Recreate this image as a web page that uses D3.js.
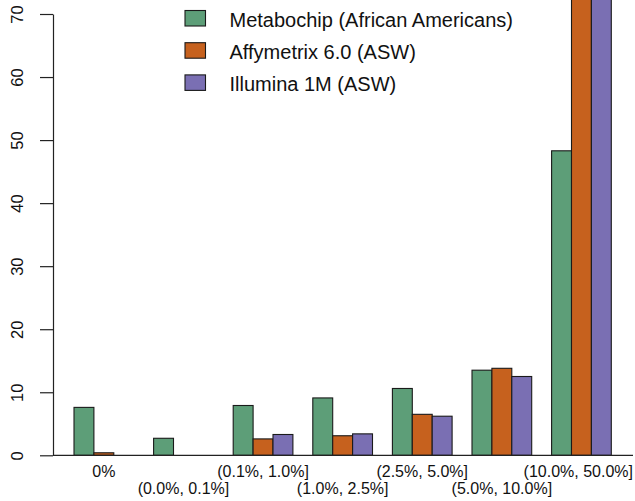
<!DOCTYPE html>
<html>
<head>
<meta charset="utf-8">
<script src="https://cdn.jsdelivr.net/npm/d3@7"></script>
<style>
  body { margin: 0; background: #fff; font-family: "Liberation Sans", Arial, sans-serif; }
  svg { display: block; }
</style>
</head>
<body>
<div id="container"><svg></svg></div>
<script>
// bins of allele frequency
let categories = ['0%', '(0.0%, 0.1%]', '(0.1%, 1.0%]', '(1.0%, 2.5%]', '(2.5%, 5.0%]', '(5.0%, 10.0%]', '(10.0%, 50.0%]'];
let series = ['Metabochip (African Americans)', 'Affymetrix 6.0 (ASW)', 'Illumina 1M (ASW)'];
let metabochip = [7.6, 2.7, 7.9, 9.1, 10.6, 13.5, 48.3];
let affymetrix = [0.4, 0, 2.6, 3.1, 6.5, 13.8, 73.6];
let illumina = [0, 0, 3.3, 3.4, 6.2, 12.5, 74.6];
let colors = ['#5d9e78', '#c6611e', '#7a6fb3'];
let yTicks = [0, 10, 20, 30, 40, 50, 60, 70];

let width = 635;
let height = 501;
let fontFamily = '"Liberation Sans", Arial, sans-serif';

function draw_main() {
    let svg = d3.select('#container')
        .select('svg')
        .attr('width', width)
        .attr('height', height);

    let values = [metabochip, affymetrix, illumina];

    // y scale - percent of snps
    let y = d3.scaleLinear()
        .domain([0, 70])
        .range([455.3, 14]);

    // one group = 1 gap unit + 3 bars
    let unit = 19.9;
    let x0 = 54.1;
    let x = d3.scaleBand()
        .domain(categories)
        .range([x0, x0 + categories.length * 4 * unit]);
    let xs = d3.scaleBand()
        .domain(d3.range(series.length))
        .range([unit, 4 * unit]);

    // bars
    series.forEach((s, si) => {
        svg.append('g')
            .selectAll('rect')
            .data(values[si])
            .enter()
            .append('rect')
            .attr('x', (d, i) => x(categories[i]) + xs(si))
            .attr('y', d => y(d))
            .attr('width', xs.bandwidth())
            .attr('height', d => y(0) - y(d))
            .attr('fill', colors[si])
            .attr('stroke', '#1a1a1a')
            .attr('stroke-width', 1.1);
    });

    // zero line
    svg.append('line')
        .attr('x1', 53).attr('x2', 633)
        .attr('y1', y(0)).attr('y2', y(0))
        .attr('stroke', '#222')
        .attr('stroke-width', 1.2);

    // y axis
    let axis_y = d3.axisLeft()
        .scale(y)
        .tickValues(yTicks)
        .tickSize(13)
        .tickSizeOuter(0);
    let gy = svg.append('g')
        .attr('transform', `translate(${53}, ${0})`)
        .call(axis_y)
        .attr('font-family', fontFamily)
        .attr('font-size', '16.5px');
    gy.select('.domain').attr('stroke', '#222').attr('stroke-width', 1.2);
    gy.selectAll('.tick line').attr('stroke', '#222').attr('stroke-width', 1.2);
    gy.selectAll('.tick text')
        .attr('x', 0)
        .attr('dy', 0)
        .attr('text-anchor', 'middle')
        .attr('fill', '#111')
        .attr('transform', 'translate(-29.7, 0) rotate(-90)');

    // x labels, staggered in two rows
    let labels = svg.append('g')
        .selectAll('text')
        .data(categories)
        .enter()
        .append('text')
        .attr('x', d => x(d) + 2.5 * unit)
        .attr('y', (d, i) => i % 2 == 0 ? 476.5 : 494)
        .attr('text-anchor', 'middle')
        .attr('font-family', fontFamily)
        .attr('font-size', '16px')
        .attr('fill', '#111')
        .text(d => d);
    // keep the last label inside the page
    labels.each(function (d) {
        let w = this.getComputedTextLength();
        let cx = +d3.select(this).attr('x');
        if (cx + w / 2 > width - 2) d3.select(this).attr('x', width - 2 - w / 2);
    });

    // legend
    let legend = svg.append('g')
        .selectAll('g')
        .data(series)
        .enter()
        .append('g')
        .attr('transform', (d, i) => `translate(185, ${10.5 + i * 32.2})`);
    legend.append('rect')
        .attr('width', 20.5)
        .attr('height', 15.5)
        .attr('fill', (d, i) => colors[i])
        .attr('stroke', '#1a1a1a')
        .attr('stroke-width', 1.1);
    legend.append('text')
        .attr('x', 44.5)
        .attr('y', 16)
        .attr('font-family', fontFamily)
        .attr('font-size', '20px')
        .attr('fill', '#111')
        .text(d => d);
}

draw_main();
</script>
</body>
</html>
